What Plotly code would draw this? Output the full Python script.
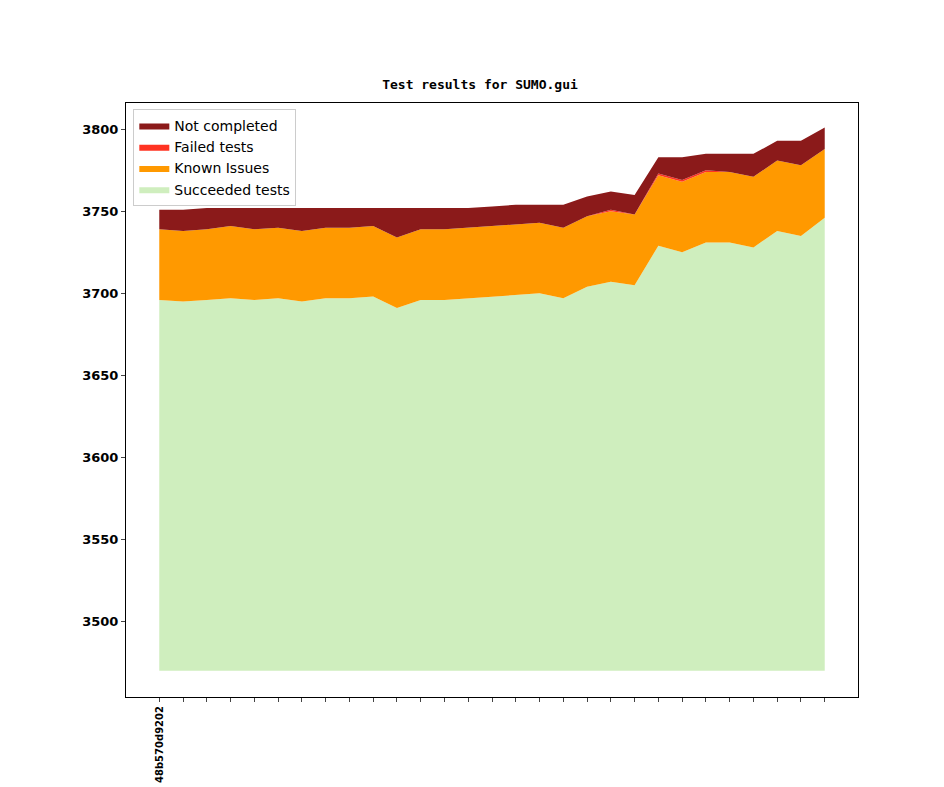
import plotly.graph_objects as go

commits = ["48b570d9202"] + ["c%02d" % i for i in range(1, 29)]
succeeded = [3696, 3695, 3696, 3697, 3696, 3697, 3695, 3697, 3697, 3698, 3691, 3696, 3696, 3697,
             3698, 3699, 3700, 3697, 3704, 3707, 3705, 3729, 3725, 3731, 3731, 3728, 3738, 3735, 3746]
known = [43, 43, 43, 44, 43, 43, 43, 43, 43, 43, 43, 43, 43, 43,
         43, 43, 43, 43, 43, 43, 43, 43, 43, 43, 43, 43, 43, 43, 42]
failed = [0, 0, 0, 0, 0, 0, 0, 0, 0, 0, 0, 0, 0, 0,
          0, 0, 0, 0, 0, 1, 0, 1, 1, 1, 0, 0, 0, 0, 0]
not_completed = [12, 13, 13, 11, 13, 12, 14, 12, 12, 11, 18, 13, 13, 12,
                 12, 12, 11, 14, 12, 11, 12, 10, 14, 10, 11, 14, 12, 15, 13]
base = 3470

xs = list(range(len(commits)))
fig = go.Figure()
fig.add_trace(go.Scatter(x=xs, y=[base] * len(xs), mode="lines", line=dict(width=0),
                         showlegend=False, hoverinfo="skip"))

series = [
    ("Succeeded tests", [s - base for s in succeeded], "#cfeebe"),
    ("Known Issues", known, "#ff9900"),
    ("Failed tests", failed, "#ff3322"),
    ("Not completed", not_completed, "#8b1a1a"),
]
cum = [base] * len(xs)
for name, vals, col in series:
    cum = [c + v for c, v in zip(cum, vals)]
    fig.add_trace(go.Scatter(x=xs, y=cum, mode="lines", name=name, line=dict(width=0, color=col),
                             fill="tonexty", fillcolor=col))

fig.update_layout(
    width=944, height=787, plot_bgcolor="white", paper_bgcolor="white",
    margin=dict(l=118, r=94, t=95, b=87),
    title=dict(text="<b>Test results for SUMO.gui</b>", x=0.5, xanchor="center", y=0.897, yanchor="bottom",
               font=dict(family="DejaVu Sans Mono", size=13, color="black")),
    font=dict(family="DejaVu Sans", color="black"),
    legend=dict(x=0.01, y=0.99, xanchor="left", yanchor="top", traceorder="reversed",
                bordercolor="#cccccc", borderwidth=1, bgcolor="rgba(255,255,255,0.8)",
                font=dict(size=14, family="DejaVu Sans")),
    showlegend=True,
)
fig.update_xaxes(range=[-1.4, 29.4], tickvals=xs, ticktext=["<b>48b570d9202</b>"] + [""] * 28,
                 tickangle=-90, tickfont=dict(size=10), ticks="outside", ticklen=4,
                 showgrid=False, zeroline=False, showline=True, linecolor="black", mirror=True)
fig.update_yaxes(range=[3454, 3816], tickvals=[3500, 3550, 3600, 3650, 3700, 3750, 3800],
                 ticktext=["<b>%d</b>" % v for v in [3500, 3550, 3600, 3650, 3700, 3750, 3800]],
                 tickfont=dict(size=13), ticks="outside", ticklen=4,
                 showgrid=False, zeroline=False, showline=True, linecolor="black", mirror=True)
fig.write_html("out.html")
